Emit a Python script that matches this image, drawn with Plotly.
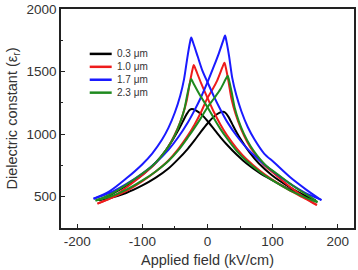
import plotly.graph_objects as go

# ---- data ----
labels = ["0.3 \u03bcm", "1.0 \u03bcm", "1.7 \u03bcm", "2.3 \u03bcm"]
colors = ["#000000", "#ee1c1c", "#1a1aff", "#1f8a1f"]

# black, 0.3 um  (L: sweep with peak at negative field, R: peak at positive field)
black_L_x = [-167, -149, -124, -99, -79, -64, -54, -45, -38, -32, -27, -24, -18, -10, 0, 10, 20, 30, 45, 60, 80, 100, 125, 150, 166]
black_L_y = [472, 515, 590, 680, 775, 870, 950, 1030, 1100, 1160, 1195, 1200, 1190, 1160, 1105, 1040, 975, 915, 835, 765, 690, 630, 560, 505, 470]
black_R_x = [-167, -150, -125, -100, -80, -60, -45, -30, -20, -10, 0, 10, 18, 24, 27, 32, 38, 45, 54, 64, 79, 99, 124, 149, 166]
black_R_y = [472, 490, 530, 590, 650, 725, 800, 885, 950, 1020, 1085, 1140, 1170, 1178, 1173, 1140, 1080, 1012, 935, 858, 765, 672, 583, 510, 468]

# red, 1.0 um
red_L_x = [-169, -146, -121, -96, -81, -66, -56, -46, -38, -32, -27, -23, -21, -18, -10, 0, 10, 20, 30, 45, 60, 80, 100, 125, 150, 168]
red_L_y = [445, 497, 588, 690, 760, 855, 938, 1043, 1155, 1267, 1414, 1517, 1553, 1515, 1410, 1290, 1175, 1075, 990, 885, 800, 710, 635, 555, 485, 432]
red_R_x = [-169, -150, -125, -100, -80, -60, -45, -30, -20, -10, 0, 8, 15, 23, 26, 28, 32, 37, 43, 51, 61, 71, 86, 101, 126, 151, 168]
red_R_y = [445, 485, 545, 625, 700, 790, 880, 990, 1075, 1175, 1290, 1360, 1430, 1535, 1571, 1534, 1428, 1278, 1163, 1049, 938, 855, 758, 692, 582, 488, 435]

# blue, 1.7 um
blue_L_x = [-175, -150, -125, -100, -85, -70, -60, -50, -42, -36, -31, -27, -25, -22, -15, -8, 0, 10, 20, 30, 45, 60, 80, 100, 125, 150, 175]
blue_L_y = [484, 545, 645, 760, 845, 955, 1050, 1175, 1305, 1440, 1610, 1730, 1772, 1730, 1620, 1510, 1415, 1300, 1195, 1100, 985, 890, 790, 705, 610, 530, 475]
blue_R_x = [-175, -150, -125, -100, -80, -60, -45, -30, -20, -10, 0, 10, 17, 24, 27, 29, 33, 38, 44, 52, 62, 72, 87, 102, 127, 152, 175]
blue_R_y = [484, 530, 600, 685, 770, 875, 975, 1095, 1190, 1295, 1415, 1545, 1640, 1745, 1788, 1745, 1628, 1450, 1316, 1183, 1055, 959, 845, 775, 655, 555, 472]

# green, 2.3 um
green_L_x = [-172, -150, -125, -100, -85, -70, -60, -50, -42, -36, -31, -27, -25, -22, -12, 0, 10, 20, 30, 45, 60, 80, 100, 125, 150, 169]
green_L_y = [470, 516, 595, 685, 745, 829, 900, 994, 1092, 1190, 1318, 1408, 1440, 1410, 1315, 1215, 1125, 1040, 965, 865, 785, 700, 630, 555, 495, 455]
green_R_x = [-172, -150, -125, -100, -80, -60, -45, -30, -20, -10, 0, 10, 20, 28, 31, 33, 37, 42, 48, 56, 66, 76, 91, 106, 131, 156, 169]
green_R_y = [470, 500, 555, 630, 700, 785, 870, 975, 1050, 1130, 1215, 1285, 1360, 1440, 1466, 1433, 1339, 1206, 1104, 1002, 905, 831, 744, 686, 588, 505, 458]

series = [
    (black_L_x, black_L_y, black_R_x, black_R_y),
    (red_L_x, red_L_y, red_R_x, red_R_y),
    (blue_L_x, blue_L_y, blue_R_x, blue_R_y),
    (green_L_x, green_L_y, green_R_x, green_R_y),
]

x_tickvals = [-200, -100, 0, 100, 200]
x_ticktext = ["-200", "-100", "0", "100", "200"]
y_tickvals = [500, 1000, 1500, 2000]
y_ticktext = ["500", "1000", "1500", "2000"]

FONT = "Liberation Sans, Arial, sans-serif"

fig = go.Figure()
for (lx, ly, rx, ry), name, col in zip(series, labels, colors):
    for bx, by in ((lx, ly), (rx, ry)):
        fig.add_trace(go.Scatter(
            x=bx, y=by, mode="lines", name=name, showlegend=False,
            line=dict(color=col, width=2, shape="spline", smoothing=0.8),
        ))

# manual legend (compact spacing like the reference)
leg_y = [0.795, 0.736, 0.677, 0.618]
for name, col, yy in zip(labels, colors, leg_y):
    fig.add_shape(type="line", xref="paper", yref="paper",
                  x0=0.098, x1=0.173, y0=yy, y1=yy,
                  line=dict(color=col, width=2.5))
    fig.add_annotation(xref="paper", yref="paper", x=0.186, y=yy,
                       text=name, showarrow=False, xanchor="left", yanchor="middle",
                       font=dict(family=FONT, size=10, color="#333"))

axis_common = dict(
    showline=True, linecolor="#222", linewidth=1.5, mirror=True,
    ticks="inside", ticklen=4, tickwidth=1.2, tickcolor="#222",
    showgrid=False, zeroline=False,
    tickfont=dict(family=FONT, size=13.5, color="#333"),
)

fig.update_xaxes(
    range=[-225, 225], tickvals=x_tickvals, ticktext=x_ticktext,
    minor=dict(ticks="inside", tickvals=[-150, -50, 50, 150], ticklen=2.5, tickcolor="#222"),
    title=dict(text="Applied field (kV/cm)", font=dict(family=FONT, size=14.5, color="#333"), standoff=7),
    **axis_common,
)
fig.update_yaxes(
    range=[250, 2000], tickvals=y_tickvals, ticktext=y_ticktext,
    minor=dict(ticks="inside", tickvals=[750, 1250, 1750], ticklen=2.5, tickcolor="#222"),
    title=dict(text="Dielectric constant (\u03b5<sub>r</sub>)", font=dict(family=FONT, size=14.5, color="#333"), standoff=5),
    **axis_common,
)

fig.update_layout(
    width=358, height=270,
    margin=dict(l=61, r=2, t=8, b=42),
    plot_bgcolor="white", paper_bgcolor="white",
    showlegend=False,
)

fig.write_html("out.html")
